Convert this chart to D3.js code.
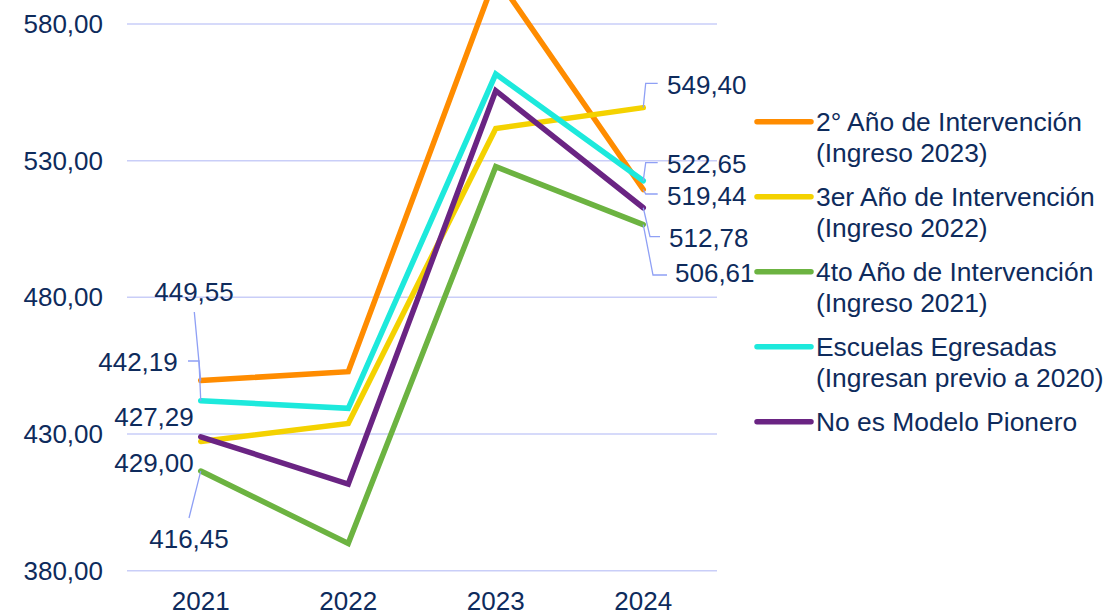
<!DOCTYPE html>
<html><head><meta charset="utf-8">
<script src="https://cdn.jsdelivr.net/npm/d3@7"></script>
<style>html,body{margin:0;padding:0;background:#fff;}svg{display:block;font-family:"Liberation Sans",Arial,sans-serif;}</style>
</head><body><svg id="c" width="1110" height="615"></svg>
<script>
const years = ["2021","2022","2023","2024"];
const yTicks = [380, 430, 480, 530, 580];
const seriesNames = ["2° Año de Intervención|(Ingreso 2023)","3er Año de Intervención|(Ingreso 2022)","4to Año de Intervención|(Ingreso 2021)","Escuelas Egresadas|(Ingresan previo a 2020)","No es Modelo Pionero"];
const seriesColors = ["#FF8C00","#F4D200","#6CB341","#1DE9DC","#6A2483"];
const orangeVals = [449.55, 452.8, 597.5, 519.44];
const yellowVals = [427.29, 433.9, 541.8, 549.40];
const greenVals  = [416.45, 390.0, 527.8, 506.61];
const cyanVals   = [442.19, 439.4, 561.7, 522.65];
const purpleVals = [429.00, 411.7, 555.6, 512.78];
const allVals = [orangeVals, yellowVals, greenVals, cyanVals, purpleVals];

const svg = d3.select("#c");
const textColor = "#0E2B5C", leaderColor = "#8FA0F5";
const x = d3.scalePoint().domain(years).range([127, 717]).padding(0.5);
const y = d3.scaleLinear().domain([380, 580]).range([570.7, 24]);
const fmt = v => d3.format(".2f")(v).replace(".", ",");

// gridlines
svg.append("g").selectAll("line").data(yTicks).join("line")
  .attr("x1", 127).attr("x2", 717).attr("y1", d => y(d)).attr("y2", d => y(d))
  .attr("stroke", "#C9CEF8").attr("stroke-width", 1.5);

// y axis labels
svg.append("g").selectAll("text").data(yTicks).join("text")
  .attr("x", 103).attr("y", d => y(d)).attr("dy", "0.35em").attr("text-anchor", "end")
  .attr("font-size", 26).attr("fill", textColor).text(d => fmt(d));

// x axis labels
svg.append("g").selectAll("text").data(years).join("text")
  .attr("x", d => x(d)).attr("y", 610).attr("text-anchor", "middle")
  .attr("font-size", 26).attr("fill", textColor).text(d => d);

svg.append("clipPath").attr("id", "clip").append("rect").attr("x", 0).attr("y", 0).attr("width", 1110).attr("height", 615);

const line = d3.line().x((d, i) => x(years[i])).y(d => y(d));
svg.append("g").attr("clip-path", "url(#clip)").selectAll("path").data(allVals).join("path")
  .attr("d", d => line(d)).attr("fill", "none")
  .attr("stroke", (d, i) => seriesColors[i]).attr("stroke-width", 5.5)
  .attr("stroke-linejoin", "miter").attr("stroke-linecap", "round");

const lab = svg.append("g");
const leaders = [
  {s:0,i:0,tx:194,ty:292,anchor:"middle",pts:[[194.3,312]]},
  {s:3,i:0,tx:138,ty:362,anchor:"middle",pts:[[188,361],[199,361]]},
  {s:1,i:0,tx:154,ty:417,anchor:"middle",pts:null},
  {s:4,i:0,tx:154,ty:463,anchor:"middle",pts:null},
  {s:2,i:0,tx:189,ty:539,anchor:"middle",pts:[[189,518]]},
  {s:1,i:3,tx:667,ty:85,anchor:"start",pts:[[657.7,83.3],[645.7,83.3]]},
  {s:3,i:3,tx:667,ty:164,anchor:"start",pts:[[657.7,162.7],[645.7,162.7]]},
  {s:0,i:3,tx:667,ty:196,anchor:"start",pts:[[657.7,194],[645.7,194]]},
  {s:4,i:3,tx:669,ty:238,anchor:"start",pts:[[660,236.7],[650,236.7]]},
  {s:2,i:3,tx:675,ty:273,anchor:"start",pts:[[667,275],[653,275]]}
];
leaders.forEach(L => {
  const v = allVals[L.s][L.i];
  const px = x(years[L.i]), py = y(v);
  if (L.pts) {
    const pts = L.pts.concat([[px, py]]);
    lab.append("path").attr("d", d3.line()(pts)).attr("fill", "none")
      .attr("stroke", leaderColor).attr("stroke-width", 1.3);
  }
  lab.append("text").attr("x", L.tx).attr("y", L.ty).attr("dy", "0.35em")
    .attr("text-anchor", L.anchor).attr("font-size", 26).attr("fill", textColor).text(fmt(v));
});

// legend
const legY = [121.7, 196.7, 271.7, 346.7, 421.7];
const leg = svg.append("g");
seriesNames.forEach((name, i) => {
  leg.append("line").attr("x1", 757).attr("x2", 811).attr("y1", legY[i]).attr("y2", legY[i])
    .attr("stroke", seriesColors[i]).attr("stroke-width", 5.5).attr("stroke-linecap", "round");
  name.split("|").forEach((t, k) => {
    leg.append("text").attr("x", 816).attr("y", legY[i] + k * 31.3).attr("dy", "0.35em")
      .attr("font-size", 26.4).attr("fill", textColor).text(t);
  });
});
</script></body></html>
